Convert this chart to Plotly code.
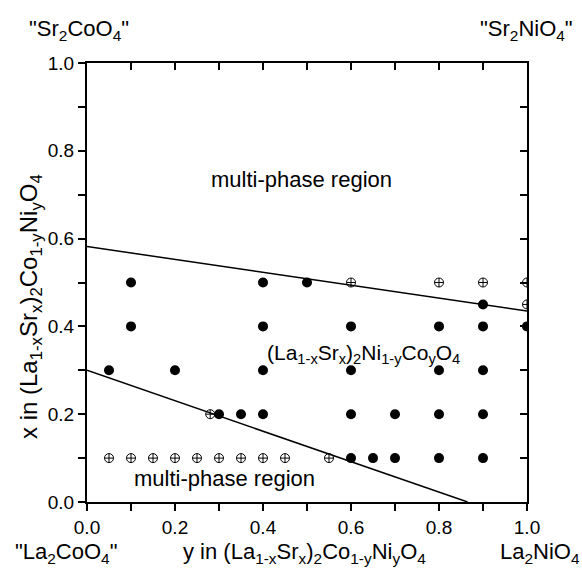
import plotly.graph_objects as go

# ---------------- data ----------------
single_y = [0.05, 0.1, 0.1, 0.2, 0.3, 0.35, 0.4, 0.4, 0.4, 0.4, 0.5,
            0.6, 0.6, 0.6, 0.6, 0.65, 0.7, 0.7,
            0.8, 0.8, 0.8, 0.8, 0.9, 0.9, 0.9, 0.9, 0.9, 1.0]
single_x = [0.3, 0.5, 0.4, 0.3, 0.2, 0.2, 0.5, 0.4, 0.3, 0.2, 0.5,
            0.4, 0.3, 0.2, 0.1, 0.1, 0.2, 0.1,
            0.4, 0.3, 0.2, 0.1, 0.45, 0.4, 0.3, 0.2, 0.1, 0.4]

multi_y = [0.05, 0.1, 0.15, 0.2, 0.25, 0.3, 0.35, 0.4, 0.45, 0.55,
           0.28, 0.6, 0.8, 0.9, 1.0, 1.0]
multi_x = [0.1, 0.1, 0.1, 0.1, 0.1, 0.1, 0.1, 0.1, 0.1, 0.1,
           0.2, 0.5, 0.5, 0.5, 0.5, 0.45]

upper_line_y = [0.0, 1.0]
upper_line_x = [0.582, 0.435]
lower_line_y = [0.0, 0.865]
lower_line_x = [0.30, 0.0]

tick_vals = [0.0, 0.1, 0.2, 0.3, 0.4, 0.5, 0.6, 0.7, 0.8, 0.9, 1.0]
tick_text = ["0.0", "", "0.2", "", "0.4", "", "0.6", "", "0.8", "", "1.0"]

# ---------------- figure ----------------
FONT = "Liberation Sans, Arial, sans-serif"
W, H = 582, 579
L, R, T, B = 87, 55, 63, 77

fig = go.Figure()
fig.add_trace(go.Scatter(x=upper_line_y, y=upper_line_x, mode="lines",
                         line=dict(color="black", width=1.5), showlegend=False))
fig.add_trace(go.Scatter(x=lower_line_y, y=lower_line_x, mode="lines",
                         line=dict(color="black", width=1.5), showlegend=False))
fig.add_trace(go.Scatter(x=single_y, y=single_x, mode="markers",
                         marker=dict(symbol="circle", size=10, color="black"),
                         showlegend=False))
fig.add_trace(go.Scatter(x=multi_y, y=multi_x, mode="markers",
                         marker=dict(symbol="circle-cross-open", size=9, color="black",
                                     line=dict(width=1, color="black")),
                         showlegend=False))

axis_common = dict(range=[0, 1], tickmode="array", tickvals=tick_vals,
                   showgrid=False, zeroline=False, showline=True,
                   linecolor="black", linewidth=2, ticklen=7, tickwidth=1.5,
                   tickcolor="black",
                   tickfont=dict(family=FONT, size=19, color="black"))

fig.update_layout(
    width=W, height=H,
    margin=dict(l=L, r=R, t=T, b=B),
    plot_bgcolor="white", paper_bgcolor="white",
    font=dict(family=FONT, color="black"),
    xaxis=dict(**axis_common, ticktext=tick_text, ticks="outside"),
    yaxis=dict(**axis_common, ticktext=tick_text, ticks="outside"),
    xaxis2=dict(**axis_common, ticks="inside", overlaying="x", side="top",
                showticklabels=False, matches="x"),
    yaxis2=dict(**axis_common, ticks="inside", overlaying="y", side="right",
                showticklabels=False, matches="y"),
)
# dummy trace to activate the secondary axes
fig.add_trace(go.Scatter(x=[None], y=[None], xaxis="x2", yaxis="y2",
                         showlegend=False, hoverinfo="skip"))


def px_x(p):
    return (p - L) / (W - L - R)


def px_y(p):
    return (H - B - p) / (H - T - B)


def note(text, x, y, size=21, angle=0, xanchor="center"):
    fig.add_annotation(text=text, xref="paper", yref="paper",
                       x=px_x(x), y=px_y(y), xanchor=xanchor, yanchor="middle",
                       showarrow=False, textangle=angle,
                       font=dict(family=FONT, size=size, color="black"))


note("multi-phase region", 301, 179, size=22)
note("multi-phase region", 224, 478, size=22)
note("(La<sub>1-x</sub>Sr<sub>x</sub>)<sub>2</sub>Ni<sub>1-y</sub>Co<sub>y</sub>O<sub>4</sub>",
     363, 354, size=21)

note("y in (La<sub>1-x</sub>Sr<sub>x</sub>)<sub>2</sub>Co<sub>1-y</sub>Ni<sub>y</sub>O<sub>4</sub>",
     304, 553, size=22)
note("x in (La<sub>1-x</sub>Sr<sub>x</sub>)<sub>2</sub>Co<sub>1-y</sub>Ni<sub>y</sub>O<sub>4</sub>",
     30, 307, size=24, angle=-90)

note("\"Sr<sub>2</sub>CoO<sub>4</sub>\"", 79, 30, size=22)
note("\"Sr<sub>2</sub>NiO<sub>4</sub>\"", 526, 30, size=22)
note("\"La<sub>2</sub>CoO<sub>4</sub>\"", 66, 553, size=22)
note("La<sub>2</sub>NiO<sub>4</sub>", 540, 553, size=22)

fig.write_html("out.html")
